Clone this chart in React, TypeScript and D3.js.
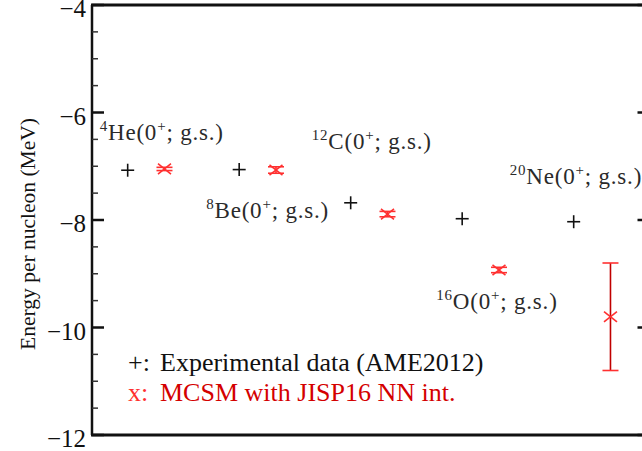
import React from "react";
import * as d3 from "d3";

const nuclei = ["4He", "8Be", "12C", "16O", "20Ne"];
const massNumbers = ["4", "8", "12", "16", "20"];
const elements = ["He", "Be", "C", "O", "Ne"];
const expEnergy = [-7.074, -7.062, -7.68, -7.976, -8.032];
const mcsmEnergy = [-7.05, -7.07, -7.89, -8.93, -9.8];
const mcsmError = [0.03, 0.06, 0.05, 0.05, 1.0];
const yTicks = [-12, -10, -8, -6, -4];
const legendExp = "Experimental data (AME2012)";
const legendMcsm = "MCSM with JISP16 NN int.";
const yLabel = "Energy per nucleon (MeV)";

// label placement (pixel offsets from experimental marker)
const labelLayout = [
  { dx: -28, dy: -30 },
  { dx: -33, dy: 48 },
  { dx: -39, dy: -54 },
  { dx: -26, dy: 90 },
  { dx: -64, dy: -38 },
];

const W = 642;
const H = 451;
const left = 92;
const top = 5;
const bottom = 435;
const SERIF = { fontFamily: "'Liberation Serif'" };

export default function App() {
  const x = d3.scaleLinear().domain([0, 5]).range([left, left + 5 * 111.5]);
  const y = d3.scaleLinear().domain([-12, -4]).range([bottom, top]);
  const right = x(5);
  const minor = d3.range(-12, -4, 0.5).filter((v) => !yTicks.includes(v));
  const red = "#d40000";
  const lightRed = "#ff3030";
  const ps = 6.5;
  const xs = 6.5;

  return (
    <svg
      width={W}
      height={H}
      style={{ position: "absolute", left: 0, top: 0, background: "#fff" }}
    >
      {/* frame */}
      <line x1={left} x2={left} y1={top} y2={bottom} stroke="#111" strokeWidth={2.5} />
      <line x1={left - 1} x2={right} y1={top} y2={top} stroke="#111" strokeWidth={3} />
      <line x1={left - 1} x2={right} y1={bottom} y2={bottom} stroke="#111" strokeWidth={3} />
      <line x1={right} x2={right} y1={top} y2={bottom} stroke="#111" strokeWidth={2.5} />

      {yTicks.map((t) => (
        <g key={t}>
          <line x1={left} x2={left + 12} y1={y(t)} y2={y(t)} stroke="#111" strokeWidth={2.5} />
          <line x1={right} x2={right - 12} y1={y(t)} y2={y(t)} stroke="#111" strokeWidth={2.5} />
          <text
            x={left - 6}
            y={y(t)}
            dy="0.48em"
            textAnchor="end"
            fontSize={25}
            fill="#111"
            style={SERIF}
          >
            {"\u2212" + Math.abs(t)}
          </text>
        </g>
      ))}
      {minor.map((t) => (
        <g key={"m" + t}>
          <line x1={left} x2={left + 6} y1={y(t)} y2={y(t)} stroke="#333" strokeWidth={1.5} />
          <line x1={right} x2={right - 6} y1={y(t)} y2={y(t)} stroke="#333" strokeWidth={1.5} />
        </g>
      ))}

      <text
        transform={`translate(27, 234) rotate(-90)`}
        textAnchor="middle"
        dy="0.35em"
        fontSize={21.5}
        fill="#111"
        style={SERIF}
      >
        {yLabel}
      </text>

      {/* experimental points */}
      {expEnergy.map((v, i) => {
        const cx = x(i + 0.32);
        const cy = y(v);
        return (
          <g key={"e" + i} stroke="#111" strokeWidth={1.6}>
            <line x1={cx - ps} x2={cx + ps} y1={cy} y2={cy} />
            <line x1={cx} x2={cx} y1={cy - ps} y2={cy + ps} />
          </g>
        );
      })}

      {/* MCSM points */}
      {mcsmEnergy.map((v, i) => {
        const cx = x(i + 0.65);
        const cy = y(v);
        const y1 = y(v + mcsmError[i]);
        const y2 = y(v - mcsmError[i]);
        const big = mcsmError[i] > 0.5;
        return (
          <g key={"m" + i}>
            <line x1={cx} x2={cx} y1={y1} y2={y2} stroke={big ? "#c00000" : lightRed} strokeWidth={1.6} />
            <line x1={cx - 8} x2={cx + 8} y1={y1} y2={y1} stroke={lightRed} strokeWidth={1.6} />
            <line x1={cx - 8} x2={cx + 8} y1={y2} y2={y2} stroke={lightRed} strokeWidth={1.6} />
            <g stroke={lightRed} strokeWidth={1.6}>
              <line x1={cx - xs} x2={cx + xs} y1={cy - xs * 0.8} y2={cy + xs * 0.8} />
              <line x1={cx - xs} x2={cx + xs} y1={cy + xs * 0.8} y2={cy - xs * 0.8} />
            </g>
          </g>
        );
      })}

      {/* nucleus labels */}
      {nuclei.map((n, i) => {
        const lx = x(i + 0.32) + labelLayout[i].dx;
        const ly = y(expEnergy[i]) + labelLayout[i].dy;
        return (
          <text key={n} x={lx} y={ly} fontSize={23} fill="#2a2a2a" letterSpacing={0.8} style={SERIF}>
            <tspan fontSize={15} dy={-9}>{massNumbers[i]}</tspan>
            <tspan dy={9}>{elements[i]}(0</tspan>
            <tspan fontSize={15} dy={-9}>+</tspan>
            <tspan dy={9}>; g.s.)</tspan>
          </text>
        );
      })}

      {/* legend */}
      <text x={128} y={371} fontSize={26} fill="#111" style={SERIF}>
        <tspan>+:</tspan>
        <tspan x={160}>{legendExp}</tspan>
      </text>
      <text x={128} y={401} fontSize={26} fill={red} style={SERIF}>
        <tspan fill={lightRed}>x:</tspan>
        <tspan x={160}>{legendMcsm}</tspan>
      </text>
    </svg>
  );
}
